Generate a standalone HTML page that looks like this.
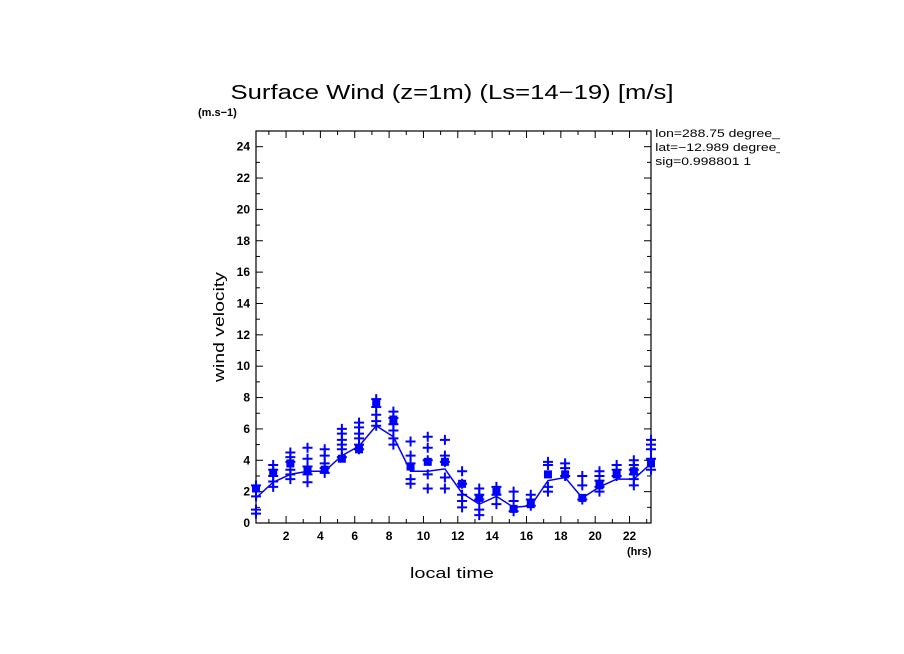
<!DOCTYPE html>
<html><head><meta charset="utf-8"><style>
html,body{margin:0;padding:0;background:#fff;}
svg{display:block;font-family:"Liberation Sans",sans-serif;}
</style></head><body>
<svg id="chart" width="904" height="654">
<text x="452" y="99" text-anchor="middle" font-size="20" textLength="443" lengthAdjust="spacingAndGlyphs">Surface Wind (z=1m) (Ls=14−19) [m/s]</text>
<text x="198" y="116" font-size="11" font-weight="bold">(m.s−1)</text>
<text x="224" y="327" font-size="15" text-anchor="middle" textLength="110" lengthAdjust="spacingAndGlyphs" transform="rotate(-90 224 327)">wind velocity</text>
<text x="452" y="578" font-size="15" text-anchor="middle" textLength="84" lengthAdjust="spacingAndGlyphs">local time</text>
<text x="627" y="555" font-size="11" font-weight="bold">(hrs)</text>
<g font-size="11">
<svg x="654" y="126" width="126" height="50"><g transform="scale(1.27 1)"><text x="1" y="11">lon=288.75 degree_east</text><text x="1" y="25">lat=−12.989 degree_north</text><text x="1" y="39">sig=0.998801 1</text></g></svg>
</g>
<g id="axes"></g>
<g id="marks"></g>
</svg>
<script>
const hours=[0,1,2,3,4,5,6,7,8,9,10,11,12,13,14,15,16,17,18,19,20,21,22,23];
const meanValues=[1.6,2.6,3.1,3.3,3.3,4.3,4.9,6.2,5.5,3.3,3.3,3.45,1.9,1.2,1.7,1.0,1.1,2.7,2.9,1.6,2.3,2.8,2.8,3.8];
const squareValues=[2.2,3.2,3.8,3.4,3.4,4.1,4.7,7.6,6.6,3.6,3.9,3.9,2.5,1.6,2.0,0.9,1.2,3.1,3.1,1.6,2.4,3.1,3.3,3.8];
const crossValues=[[2.4,1.7,0.85,0.6],[3.7,3.4,3.0,2.65,2.3],[4.5,4.2,3.9,3.4,3.1,2.8],[4.8,4.1,3.6,3.1,2.6],[4.7,4.3,3.8,3.5,3.2],[6.0,5.7,5.3,5.0,4.7,4.2],[6.4,6.1,5.7,5.4,5.0,4.7],[7.9,7.4,6.9,6.5,6.2],[7.1,6.7,6.3,5.9,5.4,5.0],[5.2,4.3,3.8,2.8,2.5],[5.5,4.8,4.0,3.1,2.2],[5.3,4.3,3.9,2.9,2.2],[3.3,2.5,1.8,1.4,1.0],[2.2,1.8,1.5,0.85,0.5],[2.3,1.8,1.2],[2.0,1.4,0.75],[1.8,1.5,1.1],[3.9,3.7,2.3,2.0],[3.8,3.5,3.0],[3.0,2.4,1.5],[3.3,3.0,2.7,2.3,2.0],[3.7,3.4,3.0],[4.0,3.7,3.4,3.1,2.8,2.4],[5.3,5.0,4.7,4.1,3.4]];
const xTickLabels=[2,4,6,8,10,12,14,16,18,20,22];
const yTickLabels=[0,2,4,6,8,10,12,14,16,18,20,22,24];
const X0=256,X1=651,Y0=523,Y1=131,XMIN=0.25,XMAX=23.25,YMAX=25;
const NS="http://www.w3.org/2000/svg";
function sx(h){return X0+(h-XMIN)/(XMAX-XMIN)*(X1-X0);}
function sy(v){return Y0-v/YMAX*(Y0-Y1);}
function mk(tag,attrs,parent){const e=document.createElementNS(NS,tag);for(const k in attrs)e.setAttribute(k,attrs[k]);parent.appendChild(e);return e;}
const axes=document.getElementById('axes'),marks=document.getElementById('marks');
const frame=mk('rect',{x:X0,y:Y1,width:X1-X0,height:Y0-Y1,fill:'none',stroke:'#000','stroke-width':1.2},axes);


for(let v=0;v<=YMAX;v++){const L=v%2===0?7:4;const y=sy(v);
 mk('line',{x1:X0,x2:X0+L,y1:y,y2:y,stroke:'#000'},axes);
 mk('line',{x1:X1,x2:X1-L,y1:y,y2:y,stroke:'#000'},axes);}
yTickLabels.forEach(v=>{const t=mk('text',{x:X0-6,y:sy(v)+4,'text-anchor':'end','font-size':12,'font-weight':'bold'},axes);t.textContent=v;
 
 });
for(let h=1;h<=23;h++){const L=h%2===0?7:4;const x=sx(h);
 mk('line',{x1:x,x2:x,y1:Y0,y2:Y0-L,stroke:'#000'},axes);
 mk('line',{x1:x,x2:x,y1:Y1,y2:Y1+L,stroke:'#000'},axes);}
xTickLabels.forEach(h=>{const t=mk('text',{x:sx(h),y:Y0+17,'text-anchor':'middle','font-size':12,'font-weight':'bold'},axes);t.textContent=h;
 
 });
const pts=hours.map((h,i)=>sx(h+0.25)+','+sy(meanValues[i])).join(' ');
const line=mk('polyline',{points:pts,fill:'none',stroke:'#0000ff','stroke-width':1.5},marks);


hours.forEach((h,i)=>{const x=sx(h+0.25);
 crossValues[i].forEach(v=>{const y=sy(v);
  const p=mk('path',{d:`M${x-5},${y}H${x+5}M${x},${y-5}V${y+5}`,stroke:'#0000ff','stroke-width':2},marks);
  
  });
 const s=mk('rect',{x:x-4,y:sy(squareValues[i])-4,width:8,height:8,fill:'#0000ff'},marks);
 
 
});
</script>
</body></html>
